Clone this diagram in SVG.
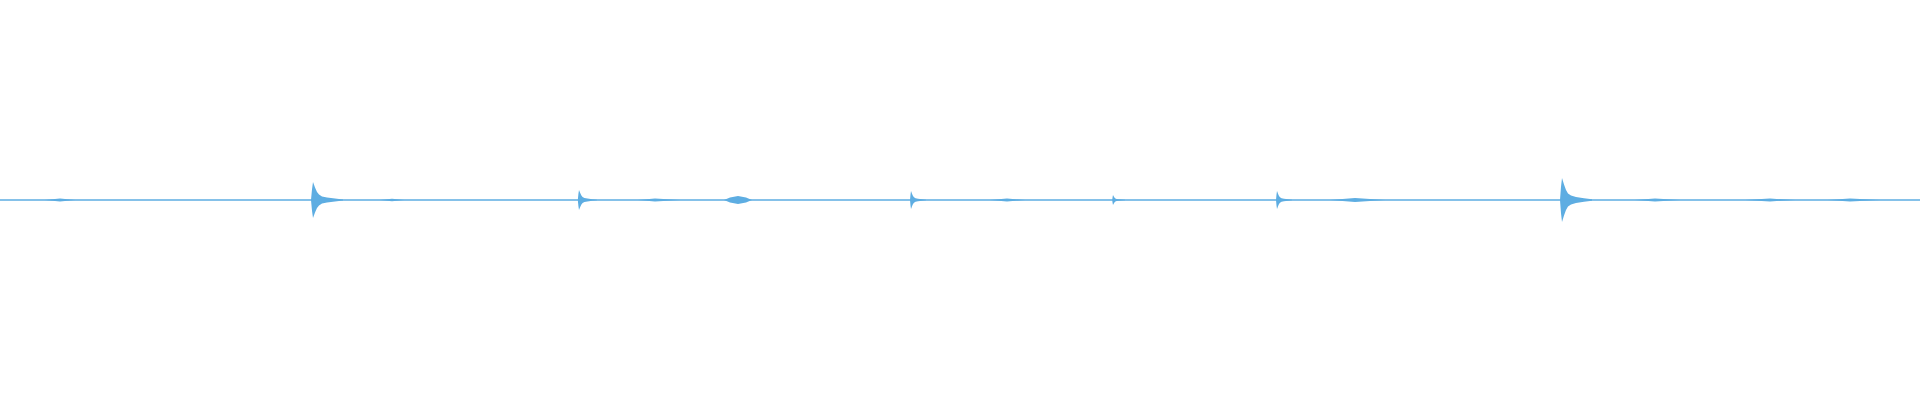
<svg xmlns="http://www.w3.org/2000/svg" width="1920" height="400" viewBox="0 0 1920 400">
<style>.w{fill:#5dade2;stroke:none}.b{stroke:#5dade2;stroke-width:1.5;fill:none}</style>
<defs>
<path id="sp" d="M-2,0 L-1,-0.6 L0,-1 L1,-0.85 L2,-0.7 L4,-0.45 L6,-0.3 L9,-0.2 L14,-0.14 L22,-0.08 L30,-0.03 L30,0.03 L22,0.08 L14,0.14 L9,0.2 L6,0.3 L4,0.45 L2,0.7 L1,0.85 L0,1 L-1,0.6 Z"/>
</defs>
<rect width="1920" height="400" fill="#fff"/>
<g id="waveform">
<line class="b" x1="0" y1="200" x2="1920" y2="200"/>
<g class="w">
<use href="#sp" transform="translate(313,200) scale(1,18)"/>
<use href="#sp" transform="translate(579,200) scale(0.6,10)"/>
<use href="#sp" transform="translate(911,200) scale(0.5,9)"/>
<use href="#sp" transform="translate(1113,200) scale(0.4,5)"/>
<use href="#sp" transform="translate(1277,200) scale(0.5,9)"/>
<use href="#sp" transform="translate(1562,200) scale(1,22)"/>
<path d="M724,200 L730,197.5 L738,196 L746,197.5 L752,200 L746,202.5 L738,204 L730,202.5 Z"/>
<path d="M45,200 L60,198.6 L75,200 L60,201.4 Z"/>
<path d="M380,200 L392,198.8 L404,200 L392,201.2 Z"/>
<path d="M638,200 L655,198.5 L680,200 L655,201.5 Z"/>
<path d="M990,200 L1007,198.5 L1025,200 L1007,201.5 Z"/>
<path d="M1330,200 L1355,198 L1385,200 L1355,202 Z"/>
<path d="M1635,200 L1655,198.6 L1680,200 L1655,201.4 Z"/>
<path d="M1745,200 L1770,198.6 L1795,200 L1770,201.4 Z"/>
<path d="M1828,200 L1850,198.6 L1880,200 L1850,201.4 Z"/>
</g>
</g>
</svg>
